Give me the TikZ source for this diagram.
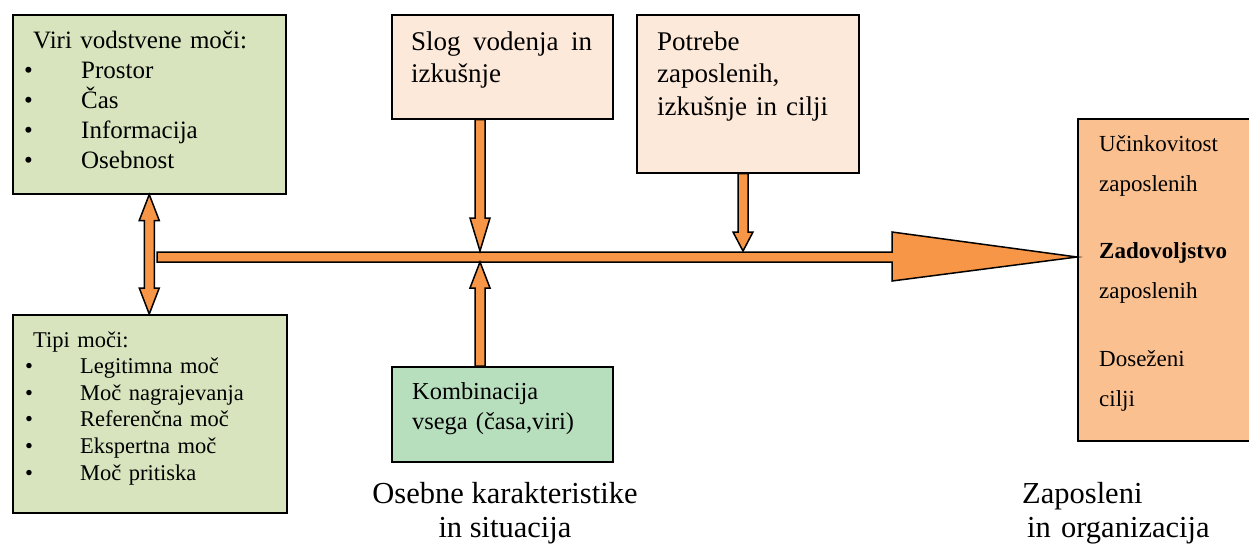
\documentclass[tikz,border=0pt]{standalone}
\usepackage{fontspec}
\setmainfont{Liberation Serif}
\usepackage{tikz}
\usetikzlibrary{calc}

\definecolor{virigreen}{HTML}{D7E4BD}
\definecolor{kombgreen}{HTML}{B7DEBD}
\definecolor{slogpeach}{HTML}{FDE9D9}
\definecolor{ergorange}{HTML}{FAC090}
\definecolor{arroworange}{HTML}{F79646}

% vertical block arrow: tail, tip, head length
\newcommand{\vblock}[3]{%
	\draw[blockarrow] ($(#1)+(-5,0)$) -- ($(#2)+(-5,-#3)$) -- ($(#2)+(-10,-#3)$) -- (#2)
		-- ($(#2)+(10,-#3)$) -- ($(#2)+(5,-#3)$) -- ($(#1)+(5,0)$) -- cycle;}
% vertical double block arrow: top tip, bottom tip, head length
\newcommand{\vdblock}[3]{%
	\draw[blockarrow] (#1) -- ($(#1)+(10,#3)$) -- ($(#1)+(5,#3)$) -- ($(#2)+(5,-#3)$) -- ($(#2)+(10,-#3)$)
		-- (#2) -- ($(#2)+(-10,-#3)$) -- ($(#2)+(-5,-#3)$) -- ($(#1)+(-5,#3)$) -- ($(#1)+(-10,#3)$) -- cycle;}
\newcommand{\fsz}[2]{\fontsize{#1}{#2}\selectfont}

\begin{document}
\begin{tikzpicture}[x=1pt,y=-1pt,
		box/.style={draw=black,line width=1.5pt,anchor=north west,inner sep=0pt},
		boxtext/.style={anchor=base west,inner sep=0pt,align=left},
		blockarrow/.style={draw=black,fill=arroworange,line width=1.5pt,line join=miter}]
			\useasboundingbox (0,0) rectangle (1249,544);
			
			\node (viri) at (12,14) [box,fill=virigreen,minimum width=273pt,minimum height=179pt] {};
			\node (tipi) at (12,314) [box,fill=virigreen,minimum width=274pt,minimum height=198pt] {};
			\node (slog) at (391,14) [box,fill=slogpeach,minimum width=221pt,minimum height=104pt] {};
			\node (potrebe) at (636,14) [box,fill=slogpeach,minimum width=222pt,minimum height=158pt] {};
			\node (komb) at (391,366) [box,fill=kombgreen,minimum width=221pt,minimum height=95pt] {};
			\node (erg) at (1077,118) [box,fill=ergorange,minimum width=185pt,minimum height=322pt] {};
			
			\node (viritext) at (24,48) [boxtext,text width=255pt,font=\fsz{25}{30}] {
				\hspace*{9pt}Viri vodstvene moči:\\
				\makebox[57pt][l]{\textbullet}Prostor\\
				\makebox[57pt][l]{\textbullet}Čas\\
				\makebox[57pt][l]{\textbullet}Informacija\\
				\makebox[57pt][l]{\textbullet}Osebnost};
			\node (tipitext) at (25,347) [boxtext,text width=255pt,font=\fsz{22.5}{26.6}] {
				\hspace*{8pt}Tipi moči:\\
				\makebox[55pt][l]{\textbullet}Legitimna moč\\
				\makebox[55pt][l]{\textbullet}Moč nagrajevanja\\
				\makebox[55pt][l]{\textbullet}Referenčna moč\\
				\makebox[55pt][l]{\textbullet}Ekspertna moč\\
				\makebox[55pt][l]{\textbullet}Moč pritiska};
			\node (slogtext) at (411,50) [boxtext,text width=181pt,font=\fsz{27}{32.5}] {
				Slog\hfill vodenja\hfill in\\izkušnje};
			\node (potrebetext) at (657,50) [boxtext,text width=190pt,font=\fsz{27}{32.5}] {
				Potrebe\\zaposlenih,\\izkušnje in cilji};
			\node (kombtext) at (412,399) [boxtext,text width=190pt,font=\fsz{24.4}{30}] {
				Kombinacija\\vsega (časa,viri)};
			\node (ergtext) at (1099,151) [boxtext,text width=150pt,font=\fsz{23}{40}] {
				Učinkovitost\\zaposlenih\\[27pt]
				\textbf{Zadovoljstvo}\\zaposlenih\\[28pt]
				Doseženi\\cilji};
			
			\node (osebne) at (505,537) [anchor=base,inner sep=0pt,align=center,font=\fsz{30.5}{34}] {
				Osebne karakteristike\\in situacija};
			\node (zaposleni) at (1022,503) [boxtext,text width=220pt,font=\fsz{30.5}{34}] {
				Zaposleni\\\hspace*{5pt}in organizacija};
			
			\coordinate (axis) at (157,257);
			\coordinate (headbase) at (892,257);
			\coordinate (joinS) at (480,251);
			\coordinate (joinP) at (743,251);
			\coordinate (joinK) at (480,262);
			
			\draw[blockarrow] ($(axis)+(0,-5)$) -- ($(headbase)+(0,-5)$) -- ($(headbase)+(0,-25)$) -- (erg.west |- axis)
				-- ($(headbase)+(0,24)$) -- ($(headbase)+(0,5)$) -- ($(axis)+(0,5)$) -- cycle;
			\vblock{joinS |- slog.south}{joinS}{33}
			\vblock{joinP |- potrebe.south}{joinP}{19}
			\vblock{joinK |- komb.north}{joinK}{-26}
			\vdblock{viri.south}{viri.south |- tipi.north}{26}
		\end{tikzpicture}
\end{document}
